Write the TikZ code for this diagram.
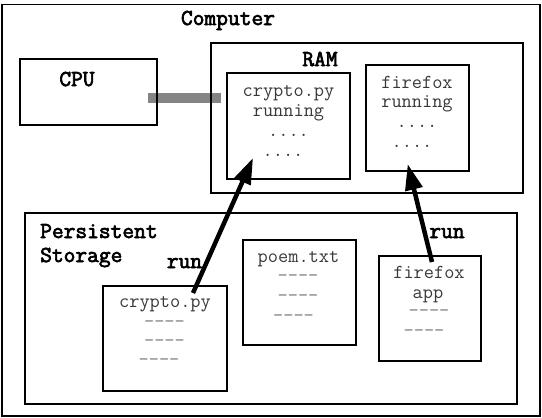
\documentclass[tikz,border=0pt]{standalone}
\usepackage{fontspec}
\newfontfamily\lmono{Latin Modern Mono}
\newfontfamily\lmbold[FakeBold=3]{Latin Modern Mono}
\usetikzlibrary{arrows.meta}
\tikzset{
  box/.style={draw=black, line width=1.6pt, inner sep=0pt, outer sep=0pt},
  lbl/.style={font=\lmbold\fontsize{22.8}{24}\selectfont, inner sep=0pt, anchor=base},
  txt/.style={font=\lmono\fontsize{19.8}{22}\selectfont, text=black!78, inner sep=0pt, anchor=base},
  dsh/.style={txt, text=black!50},
  runarrow/.style={line width=4.5pt, -{Triangle[length=26pt,width=17pt]}},
  bus/.style={line width=10pt, draw=black!48},
}
\begin{document}
\begin{tikzpicture}[x=1pt,y=-1pt]
\useasboundingbox (0,0) rectangle (542,418);
% bus between CPU and RAM
\coordinate (bs) at (148,98);
\coordinate (be) at (221,98);
\draw[bus] (bs) -- (be);
% boxes
\node[box, minimum width=538pt, minimum height=411.5pt] (computer) at (271,210.25) {};
\node[box, minimum width=137pt, minimum height=66pt] (cpu) at (88.5,92) {};
\node[box, minimum width=312pt, minimum height=150pt] (ram) at (367,118) {};
\node[box, minimum width=123pt, minimum height=106pt] (cryptorun) at (288.5,126) {};
\node[box, minimum width=103pt, minimum height=106pt] (firefoxrun) at (417.5,118) {};
\node[box, minimum width=492pt, minimum height=191pt] (storage) at (271,308.5) {};
\node[box, minimum width=124pt, minimum height=105pt] (cryptodisk) at (165,338.5) {};
\node[box, minimum width=113pt, minimum height=105pt] (poem) at (299.5,292.5) {};
\node[box, minimum width=102pt, minimum height=105pt] (firefoxapp) at (430,308.5) {};
% labels
\node[lbl] (tcomputer) at (228,25) {Computer};
\node[lbl] (tcpu) at (77,86) {CPU};
\node[lbl] (tram) at (320,66) {RAM};
\node[lbl, anchor=base west] (tpers) at (40,238) {Persistent};
\node[lbl, anchor=base west] (tstor) at (40,262) {Storage};
% crypto running
\node[txt] (cr1) at (288.5,96) {crypto.py};
\node[txt] (cr2) at (288.5,116) {running};
\node[txt] (cr3) at (288.5,136) {....};
\node[txt] (cr4) at (283,156) {....};
% firefox running
\node[txt] (fr1) at (417,88) {firefox};
\node[txt] (fr2) at (417,107) {running};
\node[txt] (fr3) at (417,127) {....};
\node[txt] (fr4) at (412,147) {....};
% crypto on disk
\node[txt] (cd1) at (165,307) {crypto.py};
\node[dsh] (cd2) at (164.5,327) {----};
\node[dsh] (cd3) at (164.5,346) {----};
\node[dsh] (cd4) at (159,365) {----};
% poem
\node[txt] (pm1) at (298.5,262) {poem.txt};
\node[dsh] (pm2) at (298,281) {----};
\node[dsh] (pm3) at (298,301) {----};
\node[dsh] (pm4) at (293.5,321) {----};
% firefox app
\node[txt] (fa1) at (429,278) {firefox};
\node[txt] (fa2) at (428,298) {app};
\node[dsh] (fa3) at (429,316) {----};
\node[dsh] (fa4) at (424,336) {----};
% run arrows
\coordinate (a1s) at (193,293);
\coordinate (a1e) at (253,158);
\coordinate (a2s) at (432,262);
\coordinate (a2e) at (407.7,164);
\draw[runarrow] (a1s) -- (a1e);
\draw[runarrow] (a2s) -- (a2e);
\node[lbl] (run1) at (184.5,268) {run};
\node[lbl] (run2) at (447,238) {run};
\end{tikzpicture}
\end{document}
